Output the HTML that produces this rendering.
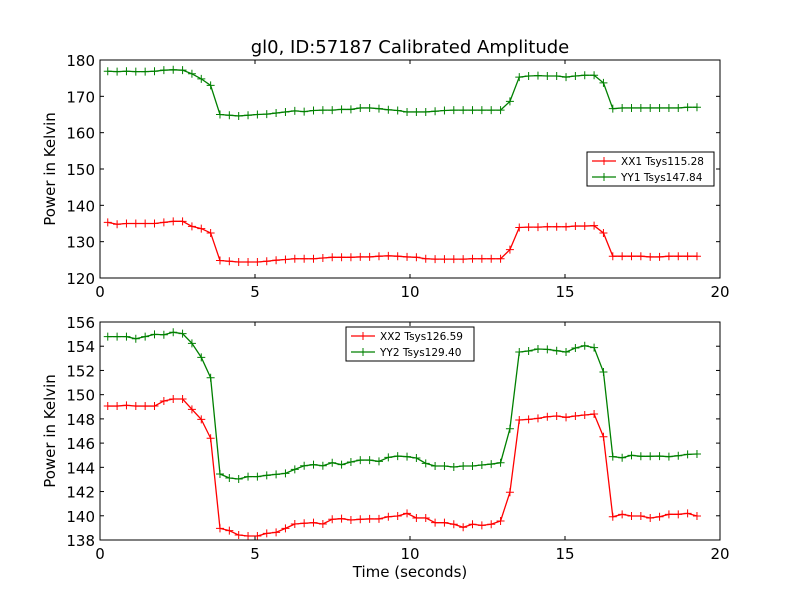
<!DOCTYPE html>
<html><head><meta charset="utf-8"><style>
body{margin:0;background:#fff;}
svg text{font-family:"DejaVu Sans","Liberation Sans",sans-serif;}
</style></head><body>
<svg id="fig" width="800" height="600" viewBox="0 0 800 600" xmlns="http://www.w3.org/2000/svg">
<rect width="800" height="600" fill="#fff"/>
<text x="410" y="53" font-size="18" text-anchor="middle">gl0, ID:57187 Calibrated Amplitude</text>
<g id="top"></g>
<g id="bot"></g>
<text x="410" y="577" font-size="15" text-anchor="middle">Time (seconds)</text>
</svg>
<script>
const N = 64;
const tStart = 0.25, tStep = 0.3017;
const xTicks = [0, 5, 10, 15, 20];
const topYTicks = [120, 130, 140, 150, 160, 170, 180];
const botYTicks = [138, 140, 142, 144, 146, 148, 150, 152, 154, 156];
const xx1 = [135.3,134.8,135.0,135.0,135.0,135.0,135.3,135.6,135.6,134.2,133.6,132.4,124.8,124.6,124.4,124.4,124.4,124.6,124.9,125.1,125.3,125.3,125.3,125.5,125.7,125.7,125.7,125.8,125.8,126.0,126.1,126.0,125.8,125.7,125.3,125.2,125.2,125.2,125.2,125.3,125.3,125.3,125.3,127.8,133.9,134.0,134.0,134.1,134.1,134.1,134.3,134.3,134.4,132.4,126.0,126.0,126.0,126.0,125.8,125.8,126.0,126.0,126.0,126.0];
const yy1 = [176.9,176.8,176.9,176.8,176.8,176.9,177.2,177.3,177.2,176.2,174.8,173.0,165.0,164.8,164.6,164.8,165.0,165.1,165.4,165.7,166.0,165.8,166.1,166.2,166.2,166.4,166.4,166.8,166.8,166.6,166.3,166.1,165.7,165.7,165.7,165.9,166.1,166.2,166.2,166.2,166.2,166.2,166.2,168.6,175.3,175.6,175.7,175.6,175.6,175.3,175.6,175.8,175.8,173.7,166.6,166.8,166.8,166.8,166.8,166.8,166.8,166.8,167.0,167.0];
const xx2 = [149.06,149.06,149.12,149.06,149.06,149.06,149.48,149.64,149.64,148.79,147.96,146.40,138.96,138.77,138.41,138.33,138.33,138.55,138.63,138.96,139.32,139.38,139.43,139.32,139.71,139.76,139.65,139.71,139.74,139.74,139.92,139.98,140.20,139.82,139.82,139.43,139.43,139.30,139.05,139.30,139.21,139.30,139.57,141.94,147.91,147.96,148.04,148.18,148.24,148.13,148.24,148.32,148.40,146.53,139.92,140.12,139.98,139.98,139.82,139.92,140.12,140.12,140.20,139.98];
const yy2 = [154.79,154.79,154.79,154.62,154.79,154.98,154.95,155.15,155.04,154.24,153.08,151.40,143.45,143.12,143.04,143.23,143.23,143.34,143.42,143.50,143.83,144.13,144.22,144.13,144.38,144.22,144.44,144.60,144.60,144.49,144.82,144.93,144.88,144.77,144.33,144.11,144.11,144.03,144.11,144.11,144.19,144.27,144.38,147.19,153.52,153.61,153.77,153.74,153.63,153.52,153.85,154.04,153.88,151.87,144.88,144.79,144.99,144.91,144.91,144.93,144.88,144.96,145.07,145.10];

const NS = "http://www.w3.org/2000/svg";
function mk(parent, tag, attrs){ const e=document.createElementNS(NS,tag); for(const k in attrs) e.setAttribute(k,attrs[k]); parent.appendChild(e); return e; }

function panel(g, top, bottom, yMin, yMax, yTicks, series, legend, prefix){
  const L=100, R=720;
  const xs = t => L + (t-0)/(20-0)*(R-L);
  const ys = v => bottom - (v-yMin)/(yMax-yMin)*(bottom-top);
  for (const t of xTicks){
    const x=xs(t);
    const a=mk(g,'line',{x1:x,x2:x,y1:bottom,y2:bottom-4,stroke:'#000'});
    
    
    const b=mk(g,'line',{x1:x,x2:x,y1:top,y2:top+4,stroke:'#000'});
    
    
    const tx=mk(g,'text',{x:x,y:bottom+19,'font-size':15,'text-anchor':'middle'});
    tx.textContent=String(t);
    
    
  }
  for (const v of yTicks){
    const y=ys(v);
    const a=mk(g,'line',{x1:L,x2:L+4,y1:y,y2:y,stroke:'#000'});
    
    
    const b=mk(g,'line',{x1:R,x2:R-4,y1:y,y2:y,stroke:'#000'});
    
    
    const tx=mk(g,'text',{x:L-5,y:y+6,'font-size':15,'text-anchor':'end'});
    tx.textContent=String(v);
    
    
  }
  for (const s of series){
    const pts = s.data.map((v,i)=>[xs(tStart+i*tStep), ys(v)]);
    const pl=mk(g,'polyline',{points:pts.map(p=>p.join(',')).join(' '),fill:'none',stroke:s.color,'stroke-width':1.3});
    
    
    let d='';
    for(const [x,y] of pts) d+=`M${x-4},${y}h8M${x},${y-4}v8`;
    const m=mk(g,'path',{d:d,stroke:s.color,'stroke-width':1});
    
    
  }
  const box=mk(g,'rect',{x:L,y:top,width:R-L,height:bottom-top,fill:'none',stroke:'#000','stroke-width':1});
  
  
  const ylab=mk(g,'text',{x:0,y:0,'font-size':15,'text-anchor':'middle',transform:`translate(55,${(top+bottom)/2}) rotate(-90)`});
  ylab.textContent='Power in Kelvin';
  
  
  const lg=mk(g,'g',{});
  
  
  mk(lg,'rect',{x:legend.x,y:legend.y,width:legend.w,height:34,fill:'#fff',stroke:'#000','stroke-width':1});
  series.forEach((s,i)=>{
    const y=legend.y+9+i*16;
    const e=mk(lg,'g',{});
    
    
    mk(e,'line',{x1:legend.x+5,x2:legend.x+29,y1:y,y2:y,stroke:s.color,'stroke-width':1.3});
    mk(e,'path',{d:`M${legend.x+13},${y}h8M${legend.x+17},${y-4}v8`,stroke:s.color});
    const t=mk(e,'text',{x:legend.x+34,y:y+4,'font-size':10.5});
    t.textContent=s.label;
  });
}
panel(document.getElementById('top'),60,278,120,180,topYTicks,
  [{data:xx1,color:'#ff0000',name:'xx1',label:'XX1 Tsys115.28'},{data:yy1,color:'#008000',name:'yy1',label:'YY1 Tsys147.84'}],
  {x:587,y:152,w:127},'top');
panel(document.getElementById('bot'),322,540,138,156,botYTicks,
  [{data:xx2,color:'#ff0000',name:'xx2',label:'XX2 Tsys126.59'},{data:yy2,color:'#008000',name:'yy2',label:'YY2 Tsys129.40'}],
  {x:346,y:327,w:128},'bottom');
</script>
</body></html>
